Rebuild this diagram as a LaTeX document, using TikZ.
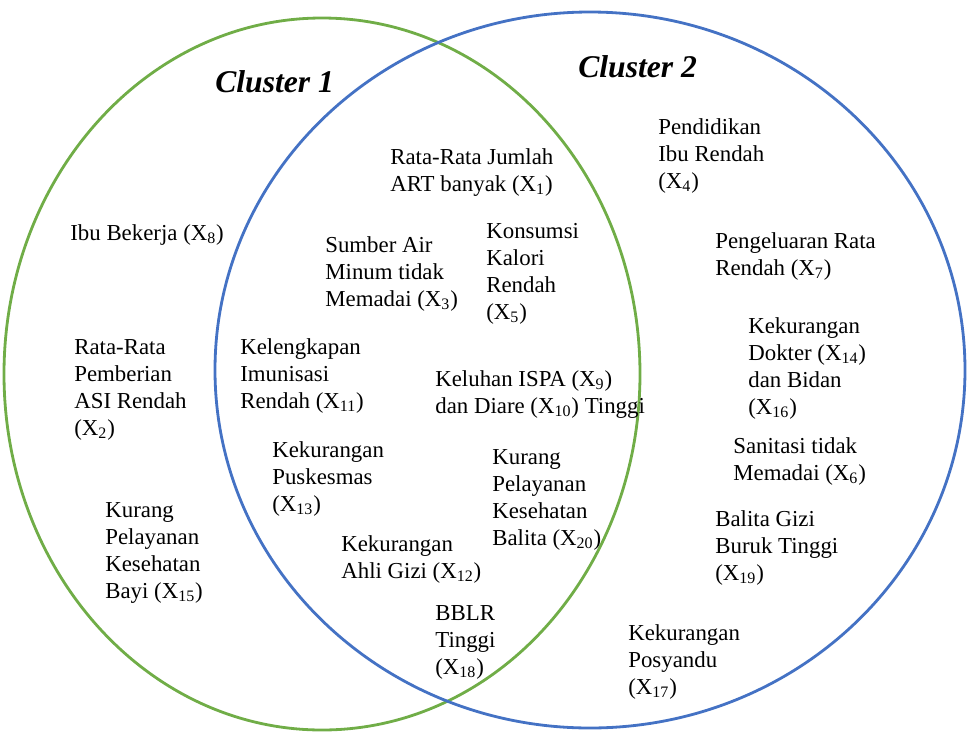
\documentclass[tikz,border=0pt]{standalone}
\usepackage{fontspec}
\setmainfont{Liberation Serif}
\usetikzlibrary{positioning}
\newcommand{\xs}[1]{(X\textsubscript{#1})}

\begin{document}
\begin{tikzpicture}[
    x=0.02cm, y=-0.02cm,
    factor/.style={anchor=north west, inner sep=0pt, align=left, font=\fontsize{13}{15.4}\selectfont},
    cluster_title/.style={anchor=base west, inner sep=0pt, font=\fontsize{18}{20}\selectfont\bfseries\itshape},
    green_ring/.style={draw={rgb,255:red,112;green,173;blue,71}, line width=1.6pt},
    blue_ring/.style={draw={rgb,255:red,68;green,114;blue,196}, line width=1.6pt}
]
\useasboundingbox (0,0) rectangle (968,738);

% Circles
\draw[green_ring] (322,374) ellipse [x radius=318, y radius=356];
\draw[blue_ring] (590,370) ellipse [x radius=375, y radius=358];

% Titles
\node[cluster_title] (cluster_one) at (215,92) {Cluster 1};
\node[cluster_title] (cluster_two) at (578,77) {Cluster 2};

% Nodes
\node[factor] (art_banyak) at (390,148) {Rata-Rata Jumlah\\ART banyak \xs{1}};
\node[factor] (pendidikan_ibu) at (658,118) {Pendidikan\\Ibu Rendah\\\xs{4}};
\node[factor] (ibu_bekerja) at (70,224) {Ibu Bekerja \xs{8}};
\node[factor] (sumber_air) at (325,236) {Sumber Air\\Minum tidak\\Memadai \xs{3}};
\node[factor] (konsumsi_kalori) at (486,223) {Konsumsi\\Kalori\\Rendah\\\xs{5}};
\node[factor] (pengeluaran) at (715,232) {Pengeluaran Rata\\Rendah \xs{7}};
\node[factor] (dokter_bidan) at (748,317) {Kekurangan\\Dokter \xs{14}\\dan Bidan\\\xs{16}};
\node[factor] (asi_rendah) at (74,339) {Rata-Rata\\Pemberian\\ASI Rendah\\\xs{2}};
\node[factor] (imunisasi) at (240,338) {Kelengkapan\\Imunisasi\\Rendah \xs{11}};
\node[factor] (ispa_diare) at (435,370) {Keluhan ISPA \xs{9}\\dan Diare \xs{10} Tinggi};
\node[factor] (sanitasi) at (733,437) {Sanitasi tidak\\Memadai \xs{6}};
\node[factor] (puskesmas) at (272,441) {Kekurangan\\Puskesmas\\\xs{13}};
\node[factor] (yankes_balita) at (492,449) {Kurang\\Pelayanan\\Kesehatan\\Balita \xs{20}};
\node[factor] (yankes_bayi) at (105,502) {Kurang\\Pelayanan\\Kesehatan\\Bayi \xs{15}};
\node[factor] (gizi_buruk) at (715,510) {Balita Gizi\\Buruk Tinggi\\\xs{19}};
\node[factor] (ahli_gizi) at (341,535) {Kekurangan\\Ahli Gizi \xs{12}};
\node[factor] (bblr) at (435,605) {BBLR\\Tinggi\\\xs{18}};
\node[factor] (posyandu) at (628,624) {Kekurangan\\Posyandu\\\xs{17}};

\end{tikzpicture}
\end{document}
